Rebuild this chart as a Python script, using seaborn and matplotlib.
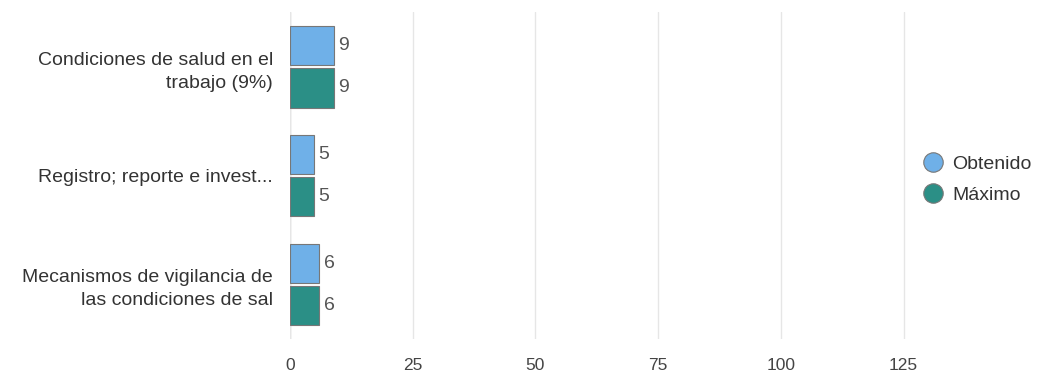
import seaborn as sns
import matplotlib.pyplot as plt
import pandas as pd
from matplotlib.lines import Line2D

categories = ["Condiciones de salud en el\ntrabajo (9%)",
              "Registro; reporte e invest...",
              "Mecanismos de vigilancia de\nlas condiciones de sal"]
obtenido = [9, 5, 6]
maximo = [9, 5, 6]
series = ["Obtenido", "Máximo"]
colors = ["#6fb0e8", "#2b8f86"]
xticks = [0, 25, 50, 75, 100, 125]

df = pd.DataFrame({
    "categoria": categories * 2,
    "serie": [series[0]] * 3 + [series[1]] * 3,
    "valor": obtenido + maximo,
})

sns.set_style("white")
plt.rcParams["font.family"] = ["Liberation Sans", "DejaVu Sans"]

fig = plt.figure(figsize=(10.39, 3.74), dpi=100)
ax = fig.add_axes([0.279, 0.094, 0.593, 0.873])

sns.barplot(data=df, y="categoria", x="valor", hue="serie", palette=colors,
            saturation=1, orient="h", width=0.78, gap=0.08,
            edgecolor="#777777", linewidth=0.8, legend=False, ax=ax)

for cont in ax.containers:
    ax.bar_label(cont, padding=3, fontsize=14, color="#555555")

ax.set_xlim(0, 125.5)
ax.set_ylim(2.5, -0.5)
ax.set_xticks(xticks)
ax.set_xticklabels([str(t) for t in xticks], fontsize=12.5, color="#444444")
ax.tick_params(axis="x", length=0, pad=14)
ax.tick_params(axis="y", length=0, pad=12, labelsize=14, labelcolor="#333333")
for lbl in ax.get_yticklabels():
    lbl.set_linespacing(1.45)
ax.grid(axis="x", color="#e6e6e6", linewidth=1)
ax.set_axisbelow(True)
ax.set_xlabel("")
ax.set_ylabel("")
for s in ax.spines.values():
    s.set_visible(False)
ax.axvline(0, color="#cccccc", linewidth=1, zorder=0)

handles = [Line2D([0], [0], marker="o", linestyle="", markersize=14,
                  markerfacecolor=c, markeredgecolor="#777777", markeredgewidth=0.8)
           for c in colors]
fig.legend(handles, series, loc="center left", bbox_to_anchor=(0.862, 0.52),
           frameon=False, fontsize=14, handletextpad=0.0, labelspacing=0.7,
           labelcolor="#333333")

plt.savefig("out.png", dpi=100)
